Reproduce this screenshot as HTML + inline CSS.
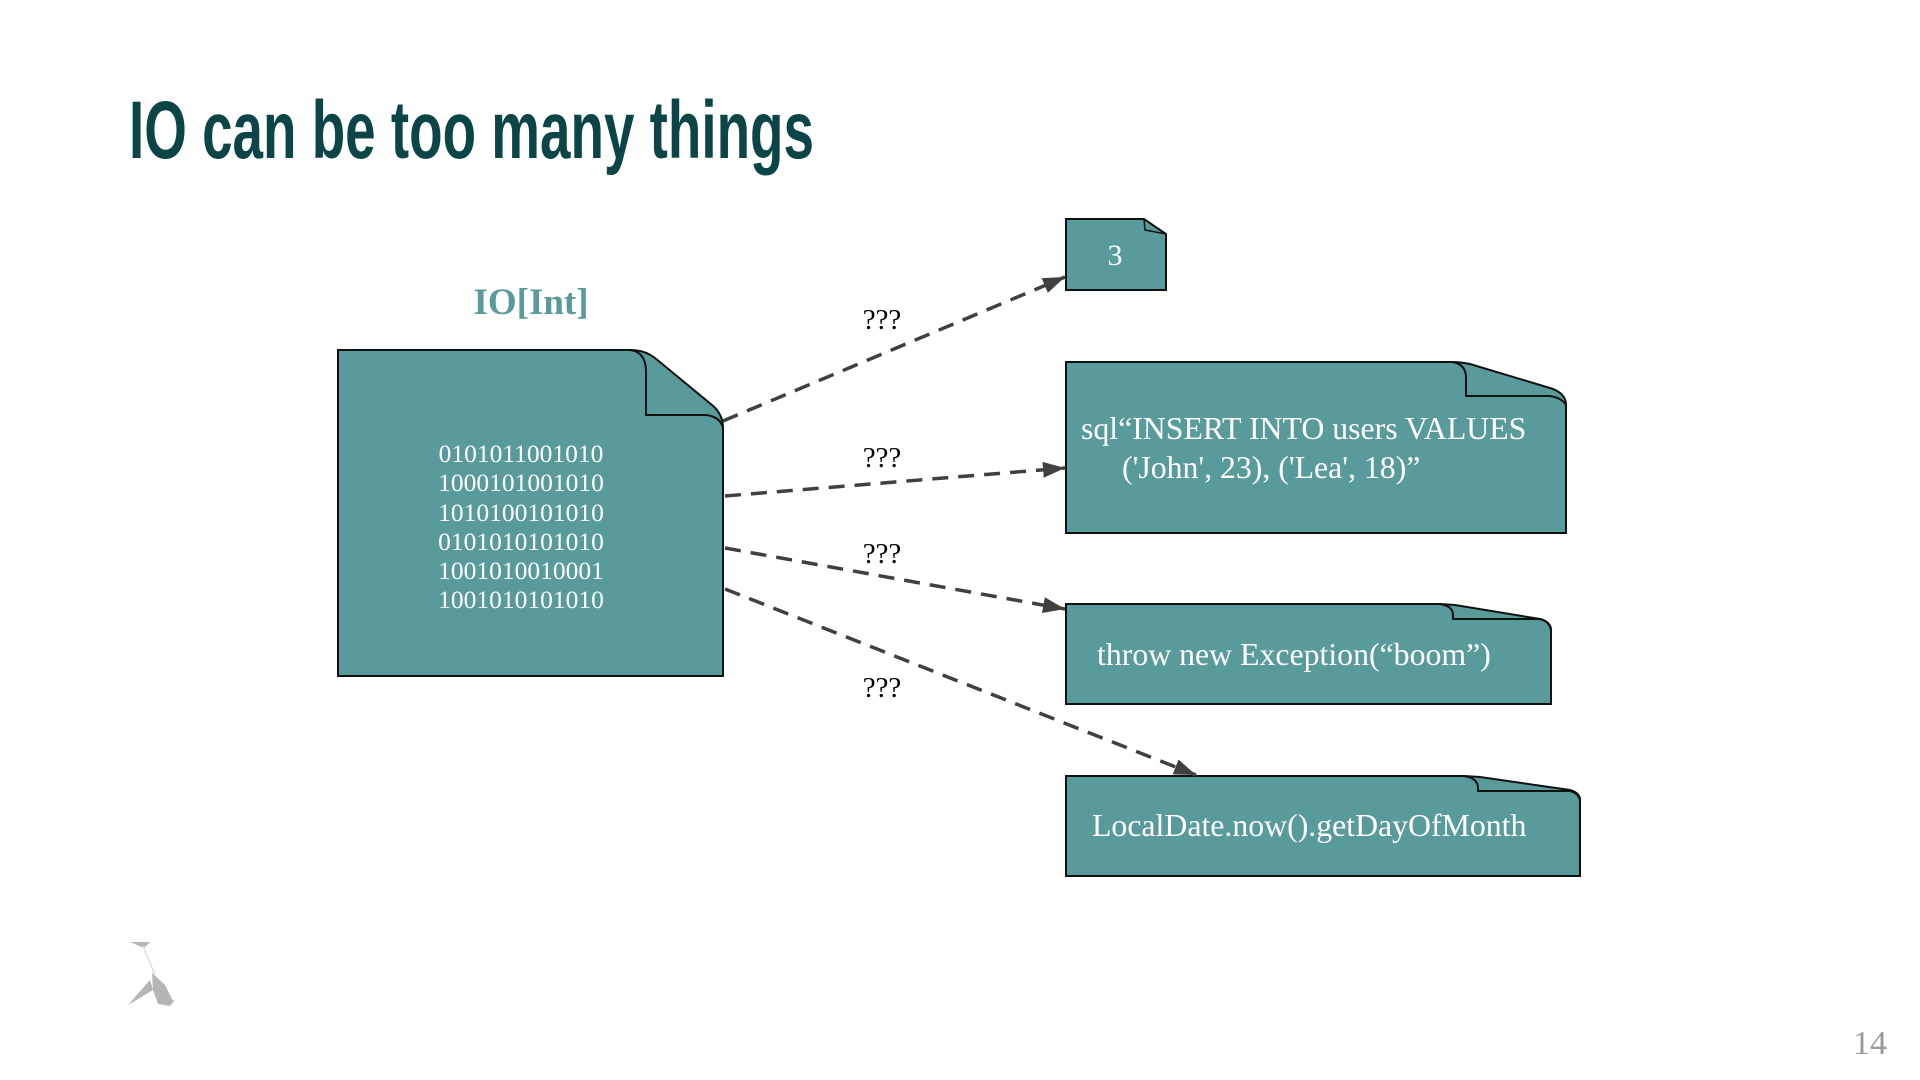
<!DOCTYPE html>
<html><head><meta charset="utf-8">
<style>
html,body{margin:0;padding:0;background:#fff;}
svg{display:block;}
</style></head>
<body>
<svg width="1920" height="1080" viewBox="0 0 1920 1080" xmlns="http://www.w3.org/2000/svg">
<defs>
<marker id="a" viewBox="0 0 10 10" refX="10" refY="5" markerWidth="22" markerHeight="16" markerUnits="userSpaceOnUse" orient="auto" preserveAspectRatio="none">
<path d="M0,0 L10,5 L0,10 z" fill="#404040"/>
</marker>
</defs>
<text x="129" y="158" font-family="'Liberation Sans Narrow','Liberation Sans',sans-serif" font-weight="bold" font-size="82" fill="#0b4548" textLength="685" lengthAdjust="spacingAndGlyphs">IO can be too many things</text>

<text x="531" y="314" text-anchor="middle" font-family="'Liberation Serif',serif" font-weight="bold" font-size="37" fill="#5a9a9b">IO[Int]</text>

<path d="M338,350 L630,350 Q645,350 655,358 L712,405 Q723,414 723,428 L723,676 L338,676 Z" fill="#599b9b" stroke="#111" stroke-width="2"/>
<path d="M630,350 Q646,352 646,372 L646,415 L705,415 Q720,416 723,428" fill="none" stroke="#111" stroke-width="2"/>
<g font-family="'Liberation Serif',serif" font-size="25.5" fill="#fff" text-anchor="middle">
<text x="521" y="462">0101011001010</text>
<text x="521" y="491">1000101001010</text>
<text x="521" y="521">1010100101010</text>
<text x="521" y="550">0101010101010</text>
<text x="521" y="579">1001010010001</text>
<text x="521" y="608">1001010101010</text>
</g>

<path d="M1066,219 L1144,219 L1166,234 L1166,290 L1066,290 Z" fill="#599b9b" stroke="#111" stroke-width="2"/>
<path d="M1144,219 L1145,230 L1166,234" fill="none" stroke="#111" stroke-width="1.5"/>
<text x="1115" y="265" text-anchor="middle" font-family="'Liberation Serif',serif" font-size="30" fill="#fff">3</text>

<path d="M1066,362 L1452,362 Q1460,362 1470,364 L1550,388 Q1566,393 1566,405 L1566,533 L1066,533 Z" fill="#599b9b" stroke="#111" stroke-width="2"/>
<path d="M1452,362 Q1466,364 1466,378 L1466,396 L1550,396 Q1562,398 1566,405" fill="none" stroke="#111" stroke-width="2"/>
<g font-family="'Liberation Serif',serif" font-size="31.8" fill="#fff">
<text x="1081" y="439">sql“INSERT INTO users VALUES</text>
<text x="1122" y="478">('John', 23), ('Lea', 18)”</text>
</g>

<path d="M1066,604 L1440,604 L1455,605 L1540,619 Q1551,622 1551,630 L1551,704 L1066,704 Z" fill="#599b9b" stroke="#111" stroke-width="2"/>
<path d="M1440,604 Q1453,606 1453,615 L1453,619 L1540,619 Q1549,621 1551,630" fill="none" stroke="#111" stroke-width="2"/>
<text x="1097" y="665" font-family="'Liberation Serif',serif" font-size="31.8" fill="#fff">throw new Exception(“boom”)</text>

<path d="M1066,776 L1464,776 L1480,777 L1570,790 Q1580,793 1580,800 L1580,876 L1066,876 Z" fill="#599b9b" stroke="#111" stroke-width="2"/>
<path d="M1464,776 Q1478,778 1478,788 L1478,791 L1570,791 Q1578,793 1580,800" fill="none" stroke="#111" stroke-width="2"/>
<text x="1092" y="836" font-family="'Liberation Serif',serif" font-size="31.8" fill="#fff">LocalDate.now().getDayOfMonth</text>

<g stroke="#404040" stroke-width="3.5" stroke-dasharray="16,10" fill="none">
<line x1="723" y1="421" x2="1065" y2="277" marker-end="url(#a)"/>
<line x1="725" y1="496" x2="1065" y2="468" marker-end="url(#a)"/>
<line x1="725" y1="548" x2="1065" y2="609" marker-end="url(#a)"/>
<line x1="725" y1="589" x2="1196" y2="775" marker-end="url(#a)"/>
</g>
<g font-family="'Liberation Serif',serif" font-size="29" fill="#000" text-anchor="middle">
<text x="882" y="329">???</text>
<text x="882" y="467">???</text>
<text x="882" y="563">???</text>
<text x="882" y="697">???</text>
</g>

<g fill="#b5b5b5">
<polygon points="130,942 150,942 144,948"/>
<polygon points="152,973 165,985 173,1001 158,1004 153,990"/>
<polygon points="150,980 128,1005 153,990"/>
<polygon points="158,1004 175,1000 170,1006"/>
</g>
<line x1="143" y1="946" x2="155" y2="975" stroke="#ddd" stroke-width="1.5"/>
<text x="1870" y="1054" text-anchor="middle" font-family="'Liberation Serif',serif" font-size="34" fill="#999">14</text>
</svg>
</body></html>
